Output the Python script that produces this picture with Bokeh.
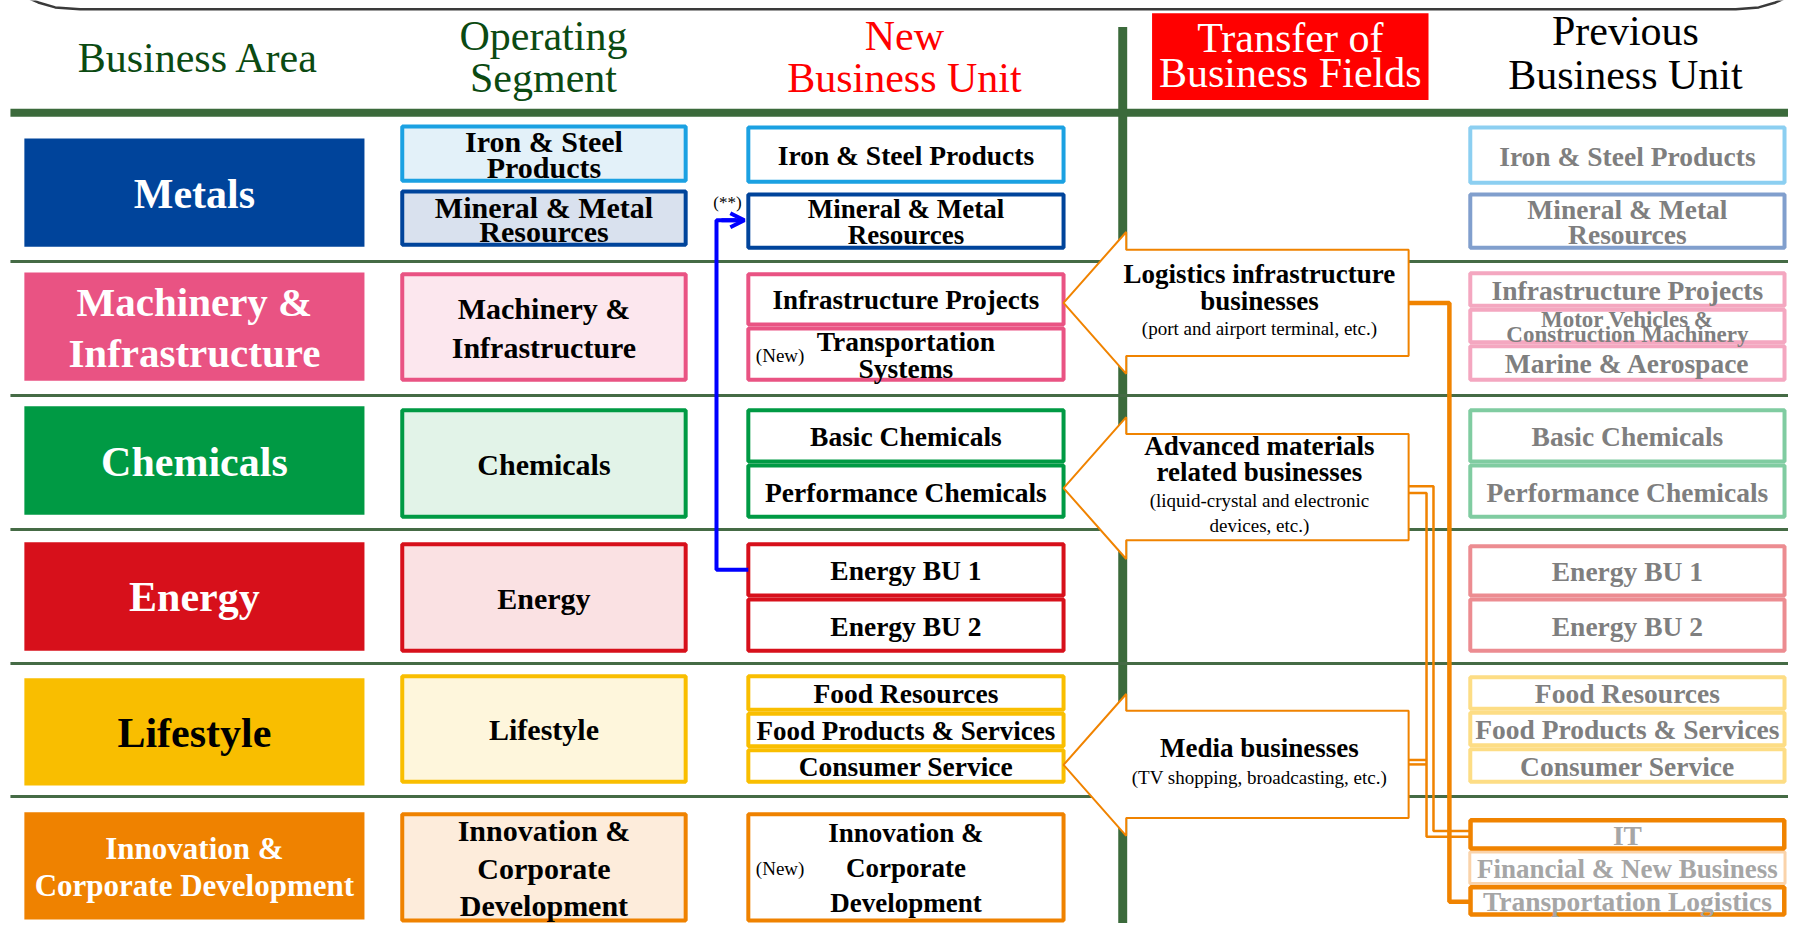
from bokeh.plotting import figure
from bokeh.models import Range1d, Arrow, OpenHead
from bokeh.core.properties import value
from bokeh.embed import file_html
from bokeh.resources import INLINE

FONT = "Liberation Serif"

# ---------------- content: texts and colours ----------------
headers = ["Business Area", "Operating\nSegment", "New\nBusiness Unit",
           "Transfer of\nBusiness Fields", "Previous\nBusiness Unit"]
header_colors = ["#0b4a12", "#0b4a12", "#ff0000", "#ffffff", "#000000"]

business_areas = ["Metals", "Machinery &\nInfrastructure", "Chemicals", "Energy",
                  "Lifestyle", "Innovation &\nCorporate Development"]
area_colors = ["#00449b", "#e95383", "#009a44", "#d7101b", "#f9be00", "#ef8200"]
area_text_colors = ["#ffffff", "#ffffff", "#ffffff", "#ffffff", "#000000", "#ffffff"]

operating_segments = [["Iron & Steel\nProducts", "Mineral & Metal\nResources"],
                      ["Machinery &\nInfrastructure"], ["Chemicals"], ["Energy"],
                      ["Lifestyle"], ["Innovation &\nCorporate\nDevelopment"]]
segment_colors = [["#1ba1e2", "#00449b"], ["#e95383"], ["#009a44"], ["#d7101b"],
                  ["#f9be00"], ["#ef8200"]]
segment_fills = [["#e3f1f9", "#d9e1ee"], ["#fce7ee"], ["#e2f3e8"], ["#fae1e3"],
                 ["#fef6dc"], ["#fdecdb"]]

new_units = [["Iron & Steel Products", "Mineral & Metal\nResources"],
             ["Infrastructure Projects", "Transportation\nSystems"],
             ["Basic Chemicals", "Performance Chemicals"],
             ["Energy BU 1", "Energy BU 2"],
             ["Food Resources", "Food Products & Services", "Consumer Service"],
             ["Innovation &\nCorporate\nDevelopment"]]
new_unit_colors = [["#1ba1e2", "#00449b"], ["#e95383", "#e95383"], ["#009a44", "#009a44"],
                   ["#d7101b", "#d7101b"], ["#f9be00", "#f9be00", "#f9be00"], ["#ef8200"]]
new_unit_marks = [["", "(**)"], ["", "(New)"], ["", ""], ["", ""], ["", "", ""], ["(New)"]]

previous_units = [["Iron & Steel Products", "Mineral & Metal\nResources"],
                  ["Infrastructure Projects", "Motor Vehicles &\nConstruction Machinery",
                   "Marine & Aerospace"],
                  ["Basic Chemicals", "Performance Chemicals"],
                  ["Energy BU 1", "Energy BU 2"],
                  ["Food Resources", "Food Products & Services", "Consumer Service"],
                  ["IT", "Financial & New Business", "Transportation Logistics"]]
previous_colors = [["#8ccff1", "#819fcd"], ["#f4a7c0"] * 3, ["#80cca1"] * 2,
                   ["#ec8c91"] * 2, ["#fddd85"] * 3, ["#f08300", "#fad3aa", "#f08300"]]
previous_text_colors = [["#7f7f7f"] * 2, ["#7f7f7f"] * 3, ["#7f7f7f"] * 2,
                        ["#7f7f7f"] * 2, ["#7f7f7f"] * 3, ["#a6a6a6"] * 3]

transfer_titles = ["Logistics infrastructure\nbusinesses",
                   "Advanced materials\nrelated businesses",
                   "Media businesses"]
transfer_notes = ["(port and airport terminal, etc.)",
                  "(liquid-crystal and electronic\ndevices, etc.)",
                  "(TV shopping, broadcasting, etc.)"]

# ---------------- layout (pixel geometry of the diagram) ----------------
X_AREA = (24, 366)
X_SEG = (402, 691)
X_NEW = (750, 1071)
X_PREV = (1476, 1796)
X_CALL = (1069, 1132, 1416)

area_rows = [(140, 250), (276, 386), (412, 522), (550, 660), (688, 797), (824, 933)]
area_font = [42, 41, 42, 42, 42, 31]
area_gap = [0, 51, 0, 0, 0, 37]

seg_rows = [[(126, 185), (192, 250)], [(276, 387)], [(414, 526)], [(550, 662)],
            [(684, 795)], [(824, 936)]]
seg_gap = [[26.5, 24], [39], [0], [0], [0], [38]]

new_rows = [[(127, 186), (195, 253)], [(276, 331), (331, 387)], [(414, 470), (470, 526)],
            [(550, 606), (606, 662)], [(684, 722), (722, 759), (759, 795)], [(824, 936)]]
new_gap = [[0, 26], [0, 27], [0, 0], [0, 0], [0, 0, 0], [35.5]]

prev_rows = [[(127, 187), (195, 253)], [(275, 312), (312, 349), (349, 387)],
             [(414, 470), (470, 526)], [(552, 606), (606, 662)],
             [(685, 721), (721, 758), (758, 795)], [(830, 863), (863, 898), (898, 930)]]
prev_font = [[27.5, 27.5], [27.5, 23, 27.5], [27.5, 27.5], [27.5, 27.5],
             [27.5, 27.5, 27.5], [27.5, 27, 27.5]]
prev_gap = [[0, 26], [0, 15, 0], [0, 0], [0, 0], [0, 0, 0], [0, 0, 0]]
prev_lw = [[4, 4], [4, 4, 4], [4, 4], [4, 4], [4, 4, 4], [4.5, 3, 4.5]]

row_separators = [265, 401, 537, 673, 808]

call_tip = [307, 495, 776]
call_rect = [(253, 361), (440, 548), (721, 830)]
call_arm = 72
call_title_y = [[277.5, 305], [452, 479], [759]]
call_note_y = [[333], [508, 533], [789]]

GREEN_BAND = "#3b6a3b"
ORANGE = "#f08300"
BLUE = "#0000ff"

p = figure(width=1788, height=923, x_range=Range1d(0, 1798), y_range=Range1d(937, 0),
           output_backend="svg", toolbar_location=None, min_border=0,
           x_axis_type=None, y_axis_type=None)
p.grid.visible = False
p.outline_line_color = None
p.background_fill_color = "#ffffff"
p.border_fill_color = "#ffffff"


def put_text(xc, yc, s, size, color, style="bold", gap=0):
    lines = s.split("\n")
    n = len(lines)
    ys = [yc + (i - (n - 1) / 2) * gap for i in range(n)]
    p.text(x=[xc] * n, y=ys, text=lines, text_font=value(FONT),
           text_font_size=f"{size}px", text_font_style=style, text_color=color,
           text_align="center", text_baseline="middle")


def box(x0, x1, y0, y1, line_color, fill_color, lw):
    h = lw / 2
    p.quad(left=x0 + h, right=x1 - h, top=y0 + h, bottom=y1 - h,
           line_color=line_color, fill_color=fill_color, line_width=lw)


# top rounded frame (mostly cut off)
p.line(x=[20, 38, 55, 80, 1745, 1768, 1785, 1802], y=[-6, 2, 7, 9, 9, 7, 2, -6],
       line_color="#3a3a3a", line_width=2.5)

# separators
p.quad(left=10, right=1804, top=110, bottom=118, fill_color=GREEN_BAND, line_color=None)
p.quad(left=1124, right=1133, top=27, bottom=940, fill_color=GREEN_BAND, line_color=None)
for ys in row_separators:
    p.line(x=[10, 1804], y=[ys, ys], line_color="#456b45", line_width=3)

# headers
put_text(199, 58, headers[0], 42, header_colors[0], "normal")
put_text(546, 57.5, headers[1], 42, header_colors[1], "normal", 43)
put_text(909, 57.5, headers[2], 42, header_colors[2], "normal", 43)
p.quad(left=1158, right=1436, top=13, bottom=101, fill_color="#ff0000", line_color=None)
put_text(1297, 56, headers[3], 42, header_colors[3], "normal", 36)
put_text(1634, 53.5, headers[4], 42, header_colors[4], "normal", 45)

# business areas
for i, (y0, y1) in enumerate(area_rows):
    p.quad(left=X_AREA[0], right=X_AREA[1], top=y0, bottom=y1,
           fill_color=area_colors[i], line_color=None)
    put_text((X_AREA[0] + X_AREA[1]) / 2, (y0 + y1) / 2 + 1, business_areas[i],
             area_font[i], area_text_colors[i], "bold", area_gap[i])

# operating segments
for i, subs in enumerate(seg_rows):
    for j, (y0, y1) in enumerate(subs):
        box(X_SEG[0], X_SEG[1], y0, y1, segment_colors[i][j], segment_fills[i][j], 4)
        put_text((X_SEG[0] + X_SEG[1]) / 2, (y0 + y1) / 2 + 1, operating_segments[i][j],
                 30, "#000000", "bold", seg_gap[i][j])

# new business units
for i, subs in enumerate(new_rows):
    for j, (y0, y1) in enumerate(subs):
        box(X_NEW[0], X_NEW[1], y0, y1, new_unit_colors[i][j], "#ffffff", 4)
for i, subs in enumerate(new_rows):
    for j, (y0, y1) in enumerate(subs):
        size = 27 if len(new_units[i][j]) > 22 else 27.5
        put_text((X_NEW[0] + X_NEW[1]) / 2, (y0 + y1) / 2 + 1, new_units[i][j],
                 size, "#000000", "bold", new_gap[i][j])
        mark = new_unit_marks[i][j]
        if mark == "(New)":
            put_text(784, (y0 + y1) / 2 + 1, mark, 19, "#000000", "normal")
        elif mark:
            put_text(731, 205, mark, 17, "#000000", "normal")

# previous business units (thin borders first)
order = sorted([(prev_lw[i][j], i, j) for i in range(len(prev_rows))
                for j in range(len(prev_rows[i]))])
for lw, i, j in order:
    y0, y1 = prev_rows[i][j]
    box(X_PREV[0], X_PREV[1], y0, y1, previous_colors[i][j], "#ffffff", lw)
for i, subs in enumerate(prev_rows):
    for j, (y0, y1) in enumerate(subs):
        put_text((X_PREV[0] + X_PREV[1]) / 2, (y0 + y1) / 2 + 1, previous_units[i][j],
                 prev_font[i][j], previous_text_colors[i][j], "bold", prev_gap[i][j])

# blue reassignment arrow (Energy BU 1 -> Mineral & Metal Resources)
p.line(x=[752, 720, 720, 740], y=[578, 578, 223, 223], line_color=BLUE, line_width=4)
p.add_layout(Arrow(x_start=725, y_start=223, x_end=748, y_end=223, line_color=BLUE,
                   line_width=4, end=OpenHead(size=14, line_color=BLUE, line_width=4)))

# connector lines from previous units to transfer callouts
p.line(x=[1414, 1457, 1457, 1478], y=[307, 307, 915, 915], line_color=ORANGE, line_width=4.5)
p.line(x=[1414, 1441, 1441, 1478], y=[493, 493, 843, 843], line_color=ORANGE, line_width=2.5)
p.line(x=[1414, 1434, 1434, 1478], y=[500, 500, 849, 849], line_color=ORANGE, line_width=2.5)
p.line(x=[1414, 1434], y=[771, 771], line_color=ORANGE, line_width=2.5)
p.line(x=[1414, 1434], y=[775.5, 775.5], line_color=ORANGE, line_width=2.5)

# transfer callouts
for k in range(3):
    t = call_tip[k]
    r0, r1 = call_rect[k]
    xs = [X_CALL[0], X_CALL[1], X_CALL[1], X_CALL[2], X_CALL[2], X_CALL[1], X_CALL[1]]
    ys = [t, t - call_arm, r0, r0, r1, r1, t + call_arm]
    p.patch(x=xs, y=ys, fill_color="#ffffff", line_color=ORANGE, line_width=2)
    tl = transfer_titles[k].split("\n")
    p.text(x=[1266] * len(tl), y=call_title_y[k], text=tl, text_font=value(FONT),
           text_font_size="27px", text_font_style="bold", text_color="#000000",
           text_align="center", text_baseline="middle")
    nl = transfer_notes[k].split("\n")
    p.text(x=[1266] * len(nl), y=call_note_y[k], text=nl, text_font=value(FONT),
           text_font_size="19px", text_font_style="normal", text_color="#000000",
           text_align="center", text_baseline="middle")

open("out.html", "w").write(file_html(p, INLINE))
